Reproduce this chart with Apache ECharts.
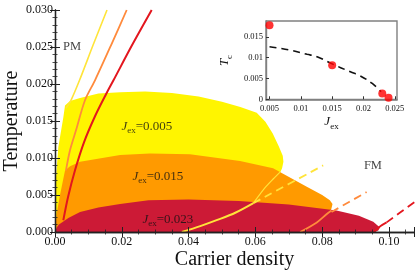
<!DOCTYPE html>
<html><head><meta charset="utf-8">
<script src="https://cdn.jsdelivr.net/npm/echarts@6/dist/echarts.min.js"></script>
<style>html,body{margin:0;padding:0;background:#fff}#c{width:415px;height:277px}</style>
</head><body><div id="c"></div>
<script>
// ---- tick labels ----
const xTicks = [0, 0.02, 0.04, 0.06, 0.08, 0.10];
const xTickLabels = ['0.00', '0.02', '0.04', '0.06', '0.08', '0.10'];
const yTicks = [0, 0.005, 0.010, 0.015, 0.020, 0.025, 0.030];
const yTickLabels = ['0.000', '0.005', '0.010', '0.015', '0.020', '0.025', '0.030'];
const insetXTicks = [0.005, 0.01, 0.015, 0.02, 0.025];
const insetXTickLabels = ['0.005', '0.01', '0.015', '0.02', '0.025'];
const insetYTicks = [0, 0.005, 0.01, 0.015];
const insetYTickLabels = ['0', '0.005', '0.01', '0.015'];

// ---- ordered-phase regions [carrier density, temperature] ----
const regionJ005 = [[0,0],[0.0003,0.0074],[0.001,0.0115],[0.0025,0.0155],[0.003,0.0171],[0.0045,0.0177],[0.0075,0.0181],[0.013,0.0187],[0.0195,0.0189],[0.027,0.0190],[0.035,0.0188],[0.043,0.0183],[0.050,0.0176],[0.0555,0.0169],[0.0604,0.0161],[0.063,0.0149],[0.0652,0.0133],[0.0670,0.0116],[0.0682,0.0103],[0.0684,0.0095],[0.0680,0.0086],[0.0668,0.0074],[0.064,0.005],[0.060,0.002],[0.057,0]];
const regionJ015 = [[0,0],[0.0005,0.0025],[0.0015,0.005],[0.003,0.0083],[0.0045,0.0089],[0.0075,0.0095],[0.0195,0.0104],[0.0284,0.0106],[0.0404,0.0105],[0.0554,0.0096],[0.0653,0.0086],[0.0754,0.0061],[0.080,0.0050],[0.0823,0.0043],[0.0831,0.0038],[0.0828,0.0032],[0.0817,0.0016],[0.0808,0]];
const regionJ023 = [[0,0],[0.0005,0.0006],[0.0012,0.0010],[0.004,0.0019],[0.0075,0.0027],[0.013,0.0033],[0.0195,0.0038],[0.028,0.0043],[0.040,0.0044],[0.055,0.0042],[0.070,0.0037],[0.0843,0.0029],[0.091,0.0022],[0.0953,0.0014],[0.0973,0.0006],[0.0968,0.0002],[0.0958,0]];

// ---- PM boundary lines ----
const lineJ005 = [[0.00329,0.01672],[0.00479,0.0178],[0.00734,0.0205],[0.01138,0.02523],[0.01557,0.030]];
const lineJ015 = [[0.00329,0.00834],[0.00449,0.01104],[0.00629,0.01374],[0.00898,0.0178],[0.01198,0.0205],[0.01677,0.02523],[0.02147,0.030]];
const lineJ023 = [[0.00249,0.00158],[0.00389,0.00469],[0.00599,0.00834],[0.00868,0.01212],[0.01198,0.01564],[0.01527,0.01861],[0.01751,0.0205],[0.02305,0.02523],[0.02895,0.030]];

// ---- FM-side lines ----
const lowJ005 = [[0.038,0],[0.0435,0.0008],[0.0484,0.0016],[0.054,0.0026],[0.0594,0.0039]];
const upJ005 = [[0.0594,0.0039],[0.0629,0.0060],[0.0654,0.0072],[0.0674,0.0081]];
const dashJ005 = [[0.0594,0.0039],[0.0803,0.0090]];
const lowJ015 = [[0.0734,0],[0.0784,0.0013],[0.0813,0.0024],[0.0828,0.0029]];
const dashJ015 = [[0.0828,0.0027],[0.0933,0.0054]];
const lowJ023 = [[0.0955,0],[0.0975,0.0008],[0.0993,0.0013]];
const dashJ023 = [[0.0993,0.0013],[0.1078,0.0041]];

// ---- inset: Tc vs Jex ----
const insetJex = [0.005, 0.015, 0.023, 0.024];
const insetTc = [0.0178, 0.0082, 0.0014, 0.0004];
const insetFitJex = [0.005, 0.008, 0.011, 0.0126, 0.015, 0.0179, 0.0195, 0.0214, 0.0228];
const insetFitTc = [0.0126, 0.0119, 0.0108, 0.0102, 0.0085, 0.0066, 0.0056, 0.0038, 0.0018];

// ---- annotations ----
const annotations = [
  [0.0051, 0.0250, 'PM'],
  [0.0952, 0.0089, 'FM'],
  [0.0275, 0.0143, 'J005'],
  [0.0308, 0.0075, 'J015'],
  [0.0338, 0.0017, 'J023']
];
const jexText = {J005: '0.005', J015: '0.015', J023: '0.023'};

const SERIF = 'Liberation Serif';
const colYellow = '#FFF500', colOrange = '#FF9A00', colRed = '#CC1A36';
const lnYellow = '#FFE43A', lnOrange = '#FF8A3C', lnRed = '#E3161E';

function lookup(v, ticks, labels) {
  let best = 0;
  for (let i = 1; i < ticks.length; i++) if (Math.abs(ticks[i] - v) < Math.abs(ticks[best] - v)) best = i;
  return labels[best];
}

function region(points, color) {
  return {
    type: 'custom', xAxisIndex: 0, yAxisIndex: 0, data: points, encode: {x: 0, y: 1}, silent: true, z: 2,
    renderItem: function (params, api) {
      if (params.dataIndex !== 0) return null;
      return {type: 'polygon', shape: {points: points.map(p => api.coord(p))}, style: {fill: color, stroke: null}};
    }
  };
}
function line(points, color, width, dashed) {
  return {
    type: 'line', xAxisIndex: 0, yAxisIndex: 0, data: points, symbol: 'none', smooth: 0.3, z: 4, silent: true,
    lineStyle: {color: color, width: width, type: dashed ? [8, 5] : 'solid'}
  };
}

const richBase = {
  i: {fontFamily: SERIF, fontStyle: 'italic', fontSize: 13, color: '#111', lineHeight: 18},
  s: {fontFamily: SERIF, fontSize: 9, color: '#111', lineHeight: 9, verticalAlign: 'bottom'},
  n: {fontFamily: SERIF, fontSize: 13, color: '#111', lineHeight: 18},
  p: {fontFamily: SERIF, fontSize: 12.5, color: '#111'}
};

const mainAxisCommon = {
  min: 0, axisLine: {show: true, lineStyle: {color: '#222', width: 1.3}},
  axisTick: {show: true, inside: true, length: 5, lineStyle: {color: '#222', width: 1}},
  minorTick: {show: true, length: 2.5, lineStyle: {color: '#222', width: 0.8}},
  splitLine: {show: false}, z: 6
};

const option = {
  animation: false,
  grid: [
    {left: 55, right: 1, top: 10, bottom: 45, show: false, outerBoundsMode: 'none', containLabel: false},
    {left: 266, top: 21, width: 131, height: 79, show: true, backgroundColor: '#fff', borderColor: '#808080', borderWidth: 1.4, z: 5, outerBoundsMode: 'none', containLabel: false}
  ],
  xAxis: [
    Object.assign({}, mainAxisCommon, {
      type: 'value', gridIndex: 0, position: 'bottom', max: 0.1075, interval: 0.02,
      minorTick: Object.assign({}, mainAxisCommon.minorTick, {splitNumber: 4}),
      axisLabel: {fontFamily: SERIF, fontSize: 12, color: '#111', margin: 4, formatter: v => lookup(v, xTicks, xTickLabels), showMaxLabel: false},
      name: 'Carrier density', nameLocation: 'middle', nameGap: 18, nameMoveOverlap: false,
      nameTextStyle: {fontFamily: SERIF, fontSize: 20, color: '#111'}
    }),
    Object.assign({}, mainAxisCommon, {
      type: 'value', gridIndex: 0, position: 'top', max: 0.1075, interval: 0.02,
      minorTick: Object.assign({}, mainAxisCommon.minorTick, {splitNumber: 4}),
      axisLabel: {show: false}
    }),
    {
      type: 'value', gridIndex: 1, min: 0.00444, max: 0.02535, z: 6,
      axisLine: {show: true, lineStyle: {color: '#808080', width: 1.4}},
      axisTick: {show: true, inside: true, length: 3, customValues: insetXTicks, lineStyle: {color: '#333'}},
      axisLabel: {fontFamily: SERIF, fontSize: 8.5, color: '#111', margin: 4, customValues: insetXTicks, formatter: v => lookup(v, insetXTicks, insetXTickLabels)},
      splitLine: {show: false},
      name: '{i|J}{s|ex}', nameLocation: 'middle', nameGap: 13, nameMoveOverlap: false,
      nameTextStyle: {rich: richBase}
    }
  ],
  yAxis: [
    Object.assign({}, mainAxisCommon, {
      type: 'value', gridIndex: 0, position: 'left', max: 0.030, interval: 0.005,
      minorTick: Object.assign({}, mainAxisCommon.minorTick, {splitNumber: 5}),
      axisLabel: {fontFamily: SERIF, fontSize: 12, color: '#111', margin: 2, formatter: v => lookup(v, yTicks, yTickLabels)},
      name: 'Temperature', nameLocation: 'middle', nameGap: 33, nameRotate: 90, nameMoveOverlap: false,
      nameTextStyle: {fontFamily: SERIF, fontSize: 20, color: '#111'}
    }),
    Object.assign({}, mainAxisCommon, {
      type: 'value', gridIndex: 0, position: 'right', max: 0.030, interval: 0.005,
      minorTick: Object.assign({}, mainAxisCommon.minorTick, {splitNumber: 5}),
      axisLabel: {show: false}
    }),
    {
      type: 'value', gridIndex: 1, min: -0.00017, max: 0.0188, z: 6,
      axisLine: {show: true, lineStyle: {color: '#808080', width: 1.4}},
      axisTick: {show: true, inside: true, length: 3, customValues: insetYTicks, lineStyle: {color: '#333'}},
      axisLabel: {fontFamily: SERIF, fontSize: 8.5, color: '#111', margin: 3, customValues: insetYTicks, formatter: v => lookup(v, insetYTicks, insetYTickLabels)},
      splitLine: {show: false},
      name: '{i|T}{s|c}', nameLocation: 'middle', nameGap: 32, nameRotate: 90, nameMoveOverlap: false,
      nameTextStyle: {rich: richBase}
    }
  ],
  series: [
    region(regionJ005, colYellow),
    region(regionJ015, colOrange),
    region(regionJ023, colRed),
    line(lineJ005, lnYellow, 1.6),
    line(lineJ015, lnOrange, 1.8),
    line(lineJ023, lnRed, 2),
    line(lowJ005, lnYellow, 2),
    line(upJ005, lnYellow, 1.2),
    line(dashJ005, lnYellow, 1.8, true),
    line(lowJ015, lnOrange, 1.8),
    line(dashJ015, lnOrange, 1.8, true),
    line(lowJ023, lnRed, 1.8),
    line(dashJ023, lnRed, 1.8, true),
    {
      type: 'scatter', xAxisIndex: 0, yAxisIndex: 0, data: annotations, symbolSize: 1, z: 7, silent: true,
      itemStyle: {color: 'rgba(0,0,0,0)'},
      label: {
        show: true, position: 'inside', rich: richBase,
        formatter: p => {
          const t = p.data[2];
          if (jexText[t]) return '{i|J}{s|ex}{n|=' + jexText[t] + '}';
          return '{p|' + t + '}';
        }
      }
    },
    {
      type: 'line', xAxisIndex: 2, yAxisIndex: 2, data: insetFitJex.map((x, i) => [x, insetFitTc[i]]),
      symbol: 'none', smooth: 0.4, z: 8, silent: true,
      lineStyle: {color: '#111', width: 1.6, type: [7, 5]}
    },
    {
      type: 'scatter', xAxisIndex: 2, yAxisIndex: 2, data: insetJex.map((x, i) => [x, insetTc[i]]),
      symbolSize: 8, z: 9, silent: true, itemStyle: {color: '#FF0000'}
    }
  ]
};

const chart = echarts.init(document.getElementById('c'), null, {renderer: 'canvas'});
chart.setOption(option);
</script>
</body></html>
